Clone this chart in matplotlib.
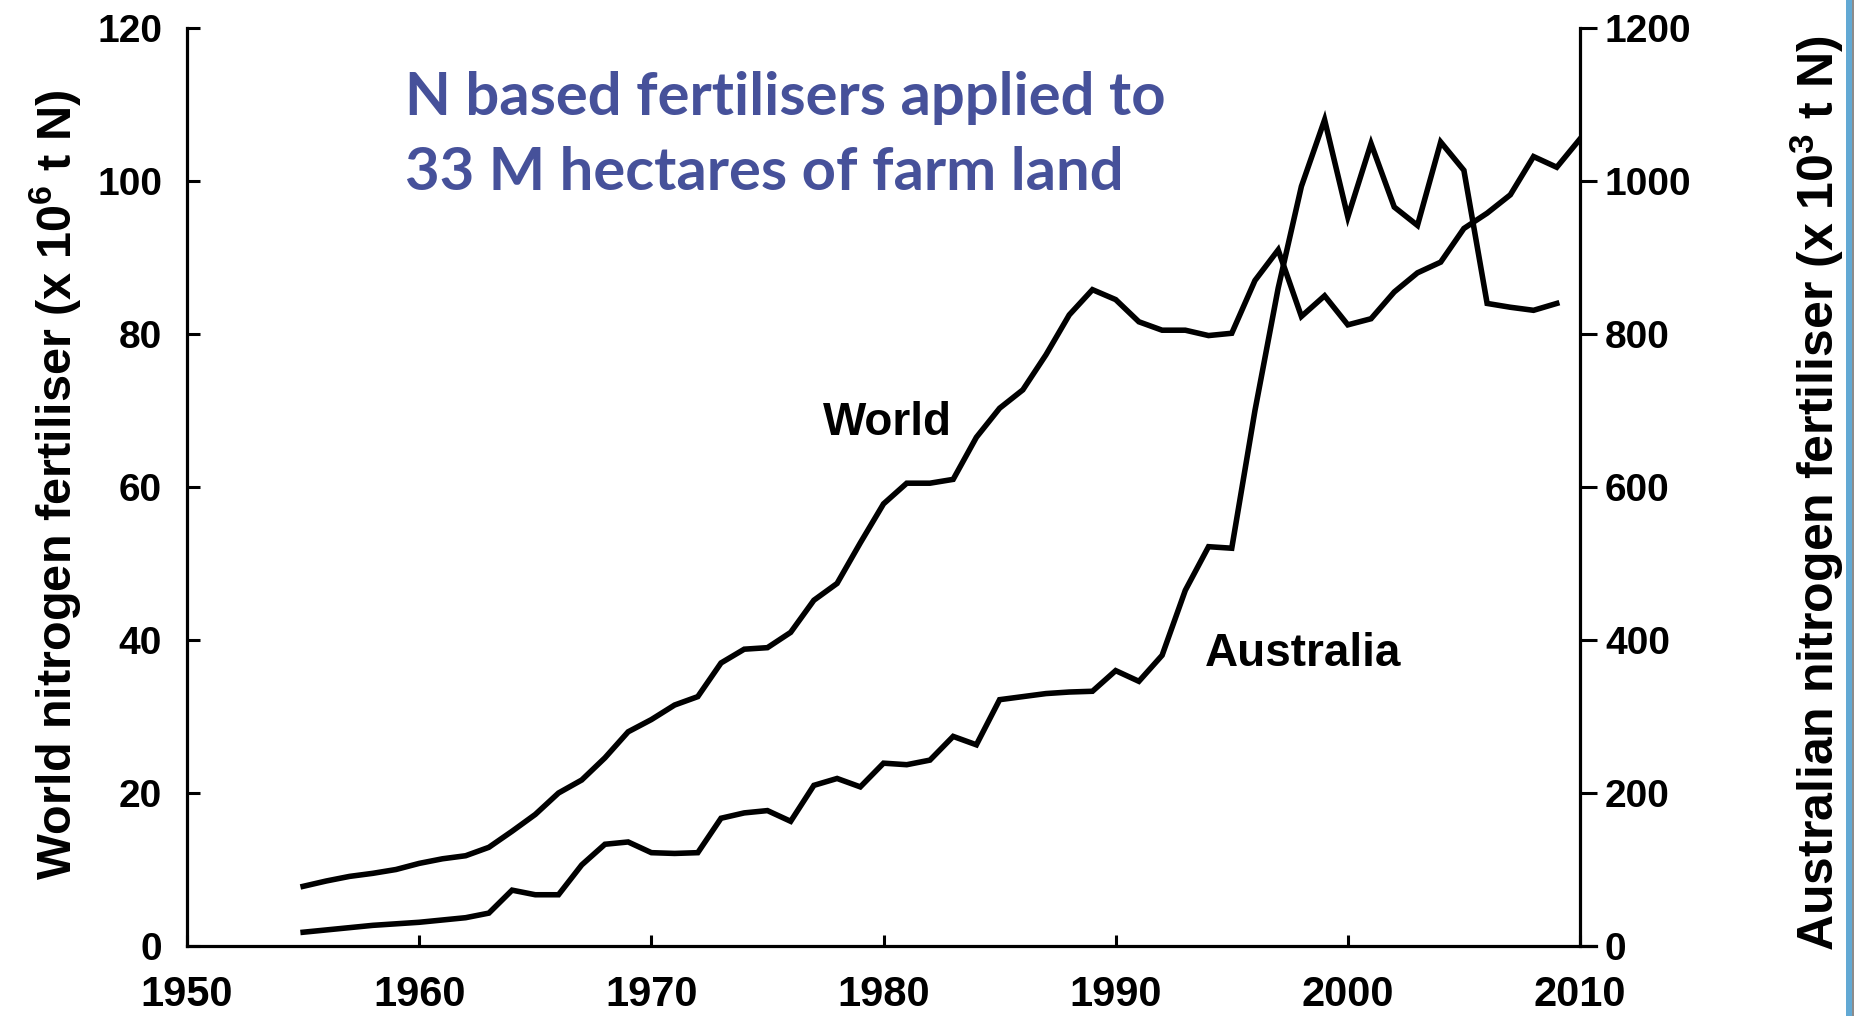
import numpy as np
import matplotlib
matplotlib.use("Agg")
import matplotlib.pyplot as plt
from matplotlib.patches import Rectangle

plt.rcParams['font.family'] = ['Liberation Sans', 'DejaVu Sans']
plt.rcParams['font.weight'] = 'bold'
plt.rcParams['mathtext.fontset'] = 'custom'
plt.rcParams['mathtext.rm'] = 'Liberation Sans:bold'
plt.rcParams['mathtext.bf'] = 'Liberation Sans:bold'
plt.rcParams['mathtext.default'] = 'bf'

# World N fertiliser (x 10^6 t N), 1955-2010
world_years = list(range(1955, 2011))
world_n = [7.8, 8.5, 9.1, 9.5, 10.0, 10.8, 11.4, 11.8, 12.9, 15.0,
           17.2, 20.0, 21.7, 24.6, 28.0, 29.6, 31.5, 32.6, 37.0, 38.8,
           39.0, 41.0, 45.2, 47.4, 52.7, 57.8, 60.5, 60.5, 61.0, 66.5,
           70.3, 72.7, 77.3, 82.5, 85.8, 84.5, 81.6, 80.5, 80.5, 79.8,
           80.1, 87.0, 91.0, 82.3, 85.0, 81.2, 82.0, 85.5, 88.0, 89.4,
           93.8, 95.8, 98.2, 103.2, 101.8, 105.5]

# Australian N fertiliser (x 10^3 t N), 1955-2009
aus_years = list(range(1955, 2010))
aus_n = [18, 21, 24, 27, 29, 31, 34, 37, 43, 73,
         67, 67, 106, 133, 136, 122, 121, 122, 167, 174,
         177, 163, 210, 219, 208, 239, 237, 243, 274, 263,
         322, 326, 330, 332, 333, 360, 346, 380, 465, 522,
         520, 700, 860, 993, 1080, 953, 1049, 966, 942, 1051,
         1014, 840, 835, 831, 840]

left_ticks = [0, 20, 40, 60, 80, 100, 120]
right_ticks = [0, 200, 400, 600, 800, 1000, 1200]
x_ticks = [1950, 1960, 1970, 1980, 1990, 2000, 2010]

title_lines = ["N based fertilisers applied to", "33 M hectares of farm land"]

fig = plt.figure(figsize=(18.54, 10.16), dpi=100)
ax = fig.add_axes([0.1009, 0.0689, 0.7513, 0.9035])
ax2 = ax.twinx()

ax.plot(world_years, world_n, color='black', lw=4, solid_joinstyle='miter')
ax2.plot(aus_years, aus_n, color='black', lw=4, solid_joinstyle='miter')

ax.set_xlim(1950, 2010)
ax.set_ylim(0, 120)
ax2.set_ylim(0, 1200)
ax.set_xticks(x_ticks)
ax.set_yticks(left_ticks)
ax2.set_yticks(right_ticks)

for a in (ax, ax2):
    a.spines['top'].set_visible(False)
    for s in a.spines.values():
        s.set_linewidth(2.3)
ax.spines['right'].set_visible(False)
ax2.spines['left'].set_visible(False)
ax2.spines['bottom'].set_visible(False)
ax.spines['bottom'].set_bounds(1950, 2010.7)

ax.tick_params(axis='x', direction='in', length=8, width=2.2, pad=21, labelsize=30)
ax.tick_params(axis='y', direction='in', length=9.5, width=2.2, pad=18, labelsize=28)
ax2.tick_params(axis='y', direction='out', length=12, width=2.2, pad=6, labelsize=28)

ax.set_ylabel("World nitrogen fertiliser (x 10$^{6}$ t N)", fontsize=35, fontweight='bold')
ax2.set_ylabel("Australian nitrogen fertiliser (x 10$^{3}$ t N)", fontsize=36, fontweight='bold')
ax.yaxis.set_label_coords(-0.075, 0.502)
ax2.yaxis.set_label_coords(1.149, 0.493)

ax.text(1980.15, 68.4, "World", fontsize=33, fontweight='bold', ha='center', va='center')
ax.text(1998.06, 38.2, "Australia", fontsize=33, fontweight='bold', ha='center', va='center')

fig.text(405 / 1854, 1 - 98 / 1016, title_lines[0], fontsize=43, fontweight='bold',
         family='Lato', color='#46519A', ha='left', va='center')
fig.text(405 / 1854, 1 - 173 / 1016, title_lines[1], fontsize=43, fontweight='bold',
         family='Lato', color='#46519A', ha='left', va='center')

# blue frame edge at the right side of the slide
fig.patches.append(Rectangle((1846 / 1854, 0), 6 / 1854, 1, transform=fig.transFigure,
                             facecolor='#62A9D4', edgecolor='none'))
fig.patches.append(Rectangle((1852 / 1854, 0), 2 / 1854, 1, transform=fig.transFigure,
                             facecolor='#8C8C8C', edgecolor='none'))

fig.savefig("out.png", dpi=100)
